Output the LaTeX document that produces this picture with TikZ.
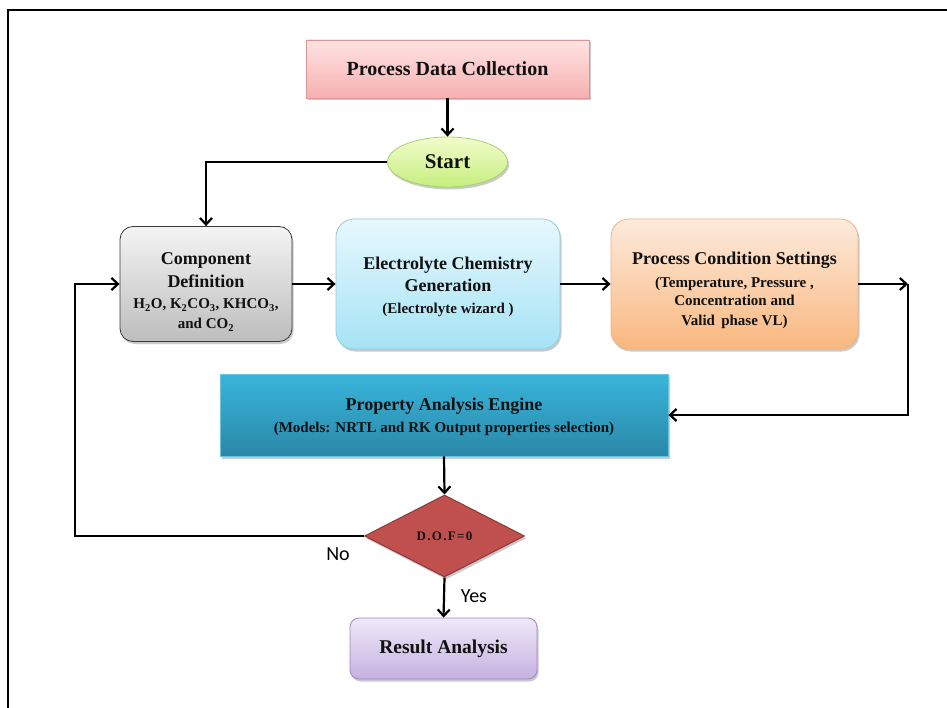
\documentclass[tikz,border=0pt]{standalone}
\usepackage{fontspec}
\setmainfont{Liberation Serif}
\newfontfamily\labelfont{Carlito}
\usetikzlibrary{shapes.geometric,arrows.meta,shadows}
\definecolor{pdcT}{HTML}{FFE3E3}\definecolor{pdcB}{HTML}{F7B0B0}\definecolor{pdcD}{HTML}{D99694}
\definecolor{stT}{HTML}{F2FCCB}\definecolor{stB}{HTML}{C6EF7E}\definecolor{stD}{HTML}{A6D26E}
\definecolor{cdT}{HTML}{F4F4F4}\definecolor{cdB}{HTML}{BDBDBD}\definecolor{cdD}{HTML}{3A3A3A}
\definecolor{elT}{HTML}{E6F8FD}\definecolor{elB}{HTML}{A6E3F5}\definecolor{elD}{HTML}{8FCCE0}
\definecolor{pcT}{HTML}{FDEBDC}\definecolor{pcB}{HTML}{F9B77E}\definecolor{pcD}{HTML}{F2B07E}
\definecolor{enT}{HTML}{39B5DA}\definecolor{enB}{HTML}{2A88A9}\definecolor{enD}{HTML}{6CC3DD}
\definecolor{dfF}{HTML}{C0504D}\definecolor{dfD}{HTML}{8C3836}
\definecolor{raT}{HTML}{EFE9F7}\definecolor{raB}{HTML}{C5B1E2}\definecolor{raD}{HTML}{9E88C5}
\definecolor{txt}{HTML}{111111}
\newcommand{\subtxt}{\fontsize{15}{20}\selectfont}
\tikzset{
  shad/.style={drop shadow={shadow xshift=1.5pt,shadow yshift=-2.5pt,opacity=.35,fill=black!60}},
  procbox/.style={draw,line width=0.8pt,align=center,text=txt,inner sep=2pt,shad},
  arr/.style={line width=2.2pt,-{Straight Barb[length=6.5pt,width=12pt,line width=2.2pt]}},
  ttl/.style={font=\fontsize{18}{24}\selectfont\bfseries,text=txt,align=center,inner sep=0pt},
  lbl/.style={font=\labelfont\fontsize{20}{24}\selectfont}
}
\begin{document}
\begin{tikzpicture}[x=1pt,y=-1pt]
\useasboundingbox (0,0) rectangle (947,708);
% outer frame (partly visible)
\draw[line width=2.6pt] (8,708) -- (8,10) -- (947,10);

\node[procbox,rectangle,font=\fontsize{20}{24}\selectfont\bfseries,minimum width=283pt,minimum height=58pt,top color=pdcT,bottom color=pdcB,draw=pdcD]
  (pdc) at (447.5,69) {Process Data Collection};
\node[procbox,ellipse,font=\fontsize{21}{24}\selectfont\bfseries,minimum width=120pt,minimum height=50pt,top color=stT,bottom color=stB,draw=stD]
  (start) at (447.5,162) {Start};
\node[procbox,rounded corners=13pt,minimum width=172pt,minimum height=115pt,top color=cdT,bottom color=cdB,draw=cdD]
  (comp) at (206,284) {};
\node[ttl] (compT) at (206,292) {Component\\[-1pt]Definition\\[-3pt]{\subtxt H\textsubscript{2}O, K\textsubscript{2}CO\textsubscript{3}, KHCO\textsubscript{3},}\\[-4pt]{\subtxt and CO\textsubscript{2}}};
\node[procbox,rounded corners=18pt,minimum width=224pt,minimum height=130pt,top color=elT,bottom color=elB,draw=elD]
  (elec) at (448,284) {};
\node[ttl] (elecT) at (448,287) {Electrolyte Chemistry\\[-2pt]Generation\\[-2pt]{\subtxt (Electrolyte wizard )}};
\node[procbox,rounded corners=18pt,minimum width=247pt,minimum height=130pt,top color=pcT,bottom color=pcB,draw=pcD]
  (pcs) at (734.5,284) {};
\node[ttl] (pcsT) at (734.5,290) {Process Condition Settings\\[-1pt]{\subtxt (Temperature, Pressure ,}\\[-6pt]{\subtxt Concentration and}\\[-4pt]{\subtxt Valid\ \,phase VL)}};
\node[procbox,rectangle,minimum width=448pt,minimum height=82pt,top color=enT,bottom color=enB,draw=enD]
  (eng) at (444,415) {};
\node[ttl] (engT) at (444,417) {Property Analysis Engine\\[-2pt]{\subtxt (Models: NRTL and RK Output properties selection)}};
\node[draw=dfD,line width=1pt,fill=dfF,diamond,inner sep=0pt,minimum width=160pt,minimum height=82pt,text=txt,font=\fontsize{13}{15}\selectfont\bfseries\addfontfeature{LetterSpace=10},shad]
  (dof) at (444.5,536) {D.O.F=0};
\node[procbox,rounded corners=9pt,font=\fontsize{19.5}{22}\selectfont\bfseries,minimum width=187pt,minimum height=61pt,top color=raT,bottom color=raB,draw=raD]
  (res) at (443.5,648.5) {Result Analysis};

\coordinate (rt) at (908,284);
\coordinate (lt) at (75,536);

\draw[arr] (pdc.south) -- (start.north);
\draw[arr] (start.west) -| (comp.north);
\draw[arr] (comp.east) -- (elec.west);
\draw[arr] (elec.east) -- (pcs.west);
\draw[arr] (pcs.east) -- (rt);
\draw[arr] (rt) |- (eng.east);
\draw[arr] (eng.south) -- (dof.north);
\draw[arr] (dof.west) -- (lt) |- (comp.west);
\draw[arr] (dof.south) -- (res.north);

\node[lbl] (no) at (338,554) {No};
\node[lbl] (yes) at (474,596) {Yes};
\end{tikzpicture}
\end{document}
